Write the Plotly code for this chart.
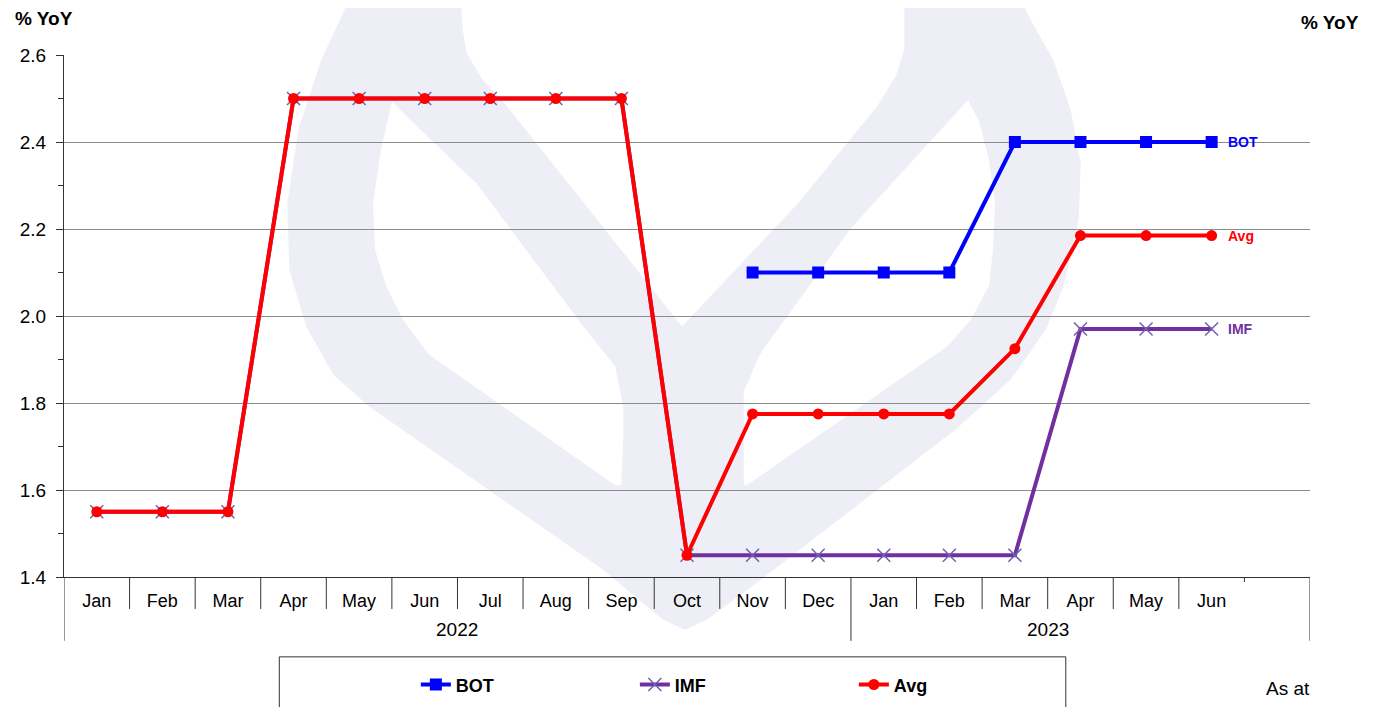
import plotly.graph_objects as go

# ---------------- data ----------------
months = ["Jan", "Feb", "Mar", "Apr", "May", "Jun", "Jul", "Aug", "Sep", "Oct", "Nov", "Dec",
          "Jan", "Feb", "Mar", "Apr", "May", "Jun"]
years = ["2022", "2023"]
year_start = [0, 12]          # index of first month of each year
year_len = [12, 6]
bot = [None] * 10 + [2.1, 2.1, 2.1, 2.1, 2.4, 2.4, 2.4, 2.4]
imf = [1.55, 1.55, 1.55, 2.5, 2.5, 2.5, 2.5, 2.5, 2.5, 1.45,
       1.45, 1.45, 1.45, 1.45, 1.45, 1.97, 1.97, 1.97]
avg = [1.55, 1.55, 1.55, 2.5, 2.5, 2.5, 2.5, 2.5, 2.5, 1.45,
       1.775, 1.775, 1.775, 1.775, 1.925, 2.185, 2.185, 2.185]
y_ticks = [1.4, 1.6, 1.8, 2.0, 2.2, 2.4, 2.6]

# ---------------- layout geometry (screen pixels) ----------------
W, H = 1375, 707
OFF = 8                      # page body margin
L, R, T, B = 60, 1310, 55, 578
n_slots = len(months) + 1
x = list(range(len(months)))

def px2paper(px, py):
    return (px - L) / (R - L), (B - py) / (B - T)

def path(points):
    pts = [px2paper(a, b) for a, b in points]
    return "M " + " L ".join(f"{a:.4f},{b:.4f}" for a, b in pts) + " Z"

LAV = "#eeeef7"
outer = [(346, -20), (346, 0), (318, 60), (295, 130), (284, 204), (286, 270), (303, 327),
         (330, 375), (367, 408), (600, 570), (660, 620), (683, 631), (706, 620), (760, 580),
         (956, 429), (1010, 380), (1045, 330), (1063, 286), (1078, 220), (1080, 163),
         (1070, 110), (1053, 61), (1030, 20), (1020, 0), (1018, -20)]
w1 = [(458, -20), (458, 0), (460, 30), (464, 53), (480, 80), (501, 102), (680, 327),
      (796, 204), (876, 106), (895, 75), (903, 49), (903, 0), (903, -20)]
w2 = [(389, 102), (378, 150), (370, 204), (372, 250), (383, 286), (400, 320), (426, 355),
      (613, 486), (619, 486), (621, 440), (621, 408), (613, 367), (581, 327), (474, 184)]
w3 = [(967, 100), (978, 122), (988, 160), (994, 204), (992, 250), (988, 286), (970, 320),
      (946, 347), (745, 486), (742, 486), (742, 440), (742, 392), (758, 355), (849, 229)]

shapes = [dict(type="path", xref="paper", yref="paper", path=path(outer),
               fillcolor=LAV, line=dict(width=0), layer="below")]
for wp in (w1, w2, w3):
    shapes.append(dict(type="path", xref="paper", yref="paper", path=path(wp),
                       fillcolor="white", line=dict(width=0), layer="below"))

# category dividers
short_drop = -(610 - B) / (B - T)
long_drop = -(642 - B) / (B - T)
for k in range(n_slots + 1):
    xv = k - 0.5
    if k in (0, 12, n_slots):
        y1 = long_drop
    elif k == len(months):
        y1 = -5 / (B - T)
    else:
        y1 = short_drop
    shapes.append(dict(type="line", xref="x", yref="paper", x0=xv, x1=xv, y0=0, y1=y1,
                       line=dict(color="#333333", width=1)))

# legend box
lx0, ly0 = px2paper(276, 658)
lx1, ly1 = px2paper(1065, 730)
shapes.append(dict(type="rect", xref="paper", yref="paper", x0=lx0, x1=lx1, y0=ly0, y1=ly1,
                   line=dict(color="#333333", width=1), fillcolor="rgba(0,0,0,0)"))

fig = go.Figure()
fig.add_trace(go.Scatter(x=x, y=bot, name="BOT", mode="lines+markers",
                         line=dict(color="#0000FF", width=4),
                         marker=dict(symbol="square", size=12, color="#0000FF")))
fig.add_trace(go.Scatter(x=x, y=imf, name="IMF", mode="lines+markers",
                         line=dict(color="#7030A0", width=4),
                         marker=dict(symbol="x-thin", size=13,
                                     line=dict(color="#7060B0", width=1.5))))
fig.add_trace(go.Scatter(x=x, y=avg, name="Avg", mode="lines+markers",
                         line=dict(color="#FF0000", width=4),
                         marker=dict(symbol="circle", size=11, color="#FF0000")))

FONT = "Liberation Sans"
annotations = []
for name, series, col in (("BOT", bot, "#0000FF"), ("Avg", avg, "#FF0000"), ("IMF", imf, "#7030A0")):
    annotations.append(dict(x=len(months) - 1, y=series[-1], xref="x", yref="y", text=f"<b>{name}</b>",
                            showarrow=False, xanchor="left", yanchor="middle", xshift=14,
                            font=dict(size=14, color=col, family=FONT)))
for yr, s, n in zip(years, year_start, year_len):
    annotations.append(dict(x=s + (n - 1) / 2, y=-(631 - B) / (B - T), xref="x", yref="paper",
                            text=yr, showarrow=False, xanchor="center", yanchor="middle",
                            font=dict(size=19, color="black", family=FONT)))
annotations.append(dict(x=px2paper(9, 0)[0], y=px2paper(0, 18)[1], xref="paper", yref="paper",
                        text="<b>% YoY</b>", showarrow=False, xanchor="left", yanchor="middle",
                        font=dict(size=19, color="black", family=FONT)))
annotations.append(dict(x=px2paper(1361, 0)[0], y=px2paper(0, 22)[1], xref="paper", yref="paper",
                        text="<b>% YoY</b>", showarrow=False, xanchor="right", yanchor="middle",
                        font=dict(size=19, color="black", family=FONT)))
annotations.append(dict(x=px2paper(1264, 0)[0], y=px2paper(0, 690)[1], xref="paper", yref="paper",
                        text="As at", showarrow=False, xanchor="left", yanchor="middle",
                        font=dict(size=19, color="black", family=FONT)))

legx, legy = px2paper(413, 686)

tick_txt = [f"{v:.1f}" for v in y_ticks]
fig.update_layout(
    width=W, height=H,
    margin=dict(l=L - OFF, r=W - R + OFF, t=T - OFF, b=H - B + OFF, pad=0),
    paper_bgcolor="white", plot_bgcolor="white",
    font=dict(family=FONT, color="black"),
    showlegend=True,
    legend=dict(orientation="h", x=legx, y=legy, xanchor="left", yanchor="middle",
                font=dict(size=18, color="black", family=FONT, weight="bold"),
                entrywidth=174, bgcolor="rgba(0,0,0,0)", borderwidth=0, itemwidth=30),
    xaxis=dict(range=[-0.5, n_slots - 0.5], tickmode="array", tickvals=x, ticktext=months,
               ticks="", showgrid=False, zeroline=False, showline=True, linecolor="#333333",
               linewidth=1, tickfont=dict(size=18), ticklabelstandoff=7, fixedrange=True),
    yaxis=dict(range=[1.4, 2.6], tickmode="array", tickvals=y_ticks, ticktext=tick_txt,
               ticks="outside", ticklen=7, tickcolor="#333333", showgrid=True,
               gridcolor="#8c8c8c", gridwidth=1, zeroline=False, showline=True,
               linecolor="#333333", linewidth=1, tickfont=dict(size=19), ticklabelstandoff=6,
               minor=dict(dtick=0.1, tick0=1.4, ticks="outside", ticklen=5, tickcolor="#333333",
                          showgrid=False)),
    yaxis2=dict(range=[1.4, 2.6], overlaying="y", side="right", tickmode="array",
                tickvals=y_ticks, ticktext=tick_txt, ticks="outside", ticklen=7,
                tickcolor="#333333", showgrid=False, zeroline=False, showline=True,
                linecolor="#333333", linewidth=1, tickfont=dict(size=19), ticklabelstandoff=9,
                minor=dict(dtick=0.1, tick0=1.4, ticks="outside", ticklen=5, tickcolor="#333333",
                           showgrid=False)),
    shapes=shapes,
    annotations=annotations,
)

fig.write_html("out.html", config={"displayModeBar": False})
